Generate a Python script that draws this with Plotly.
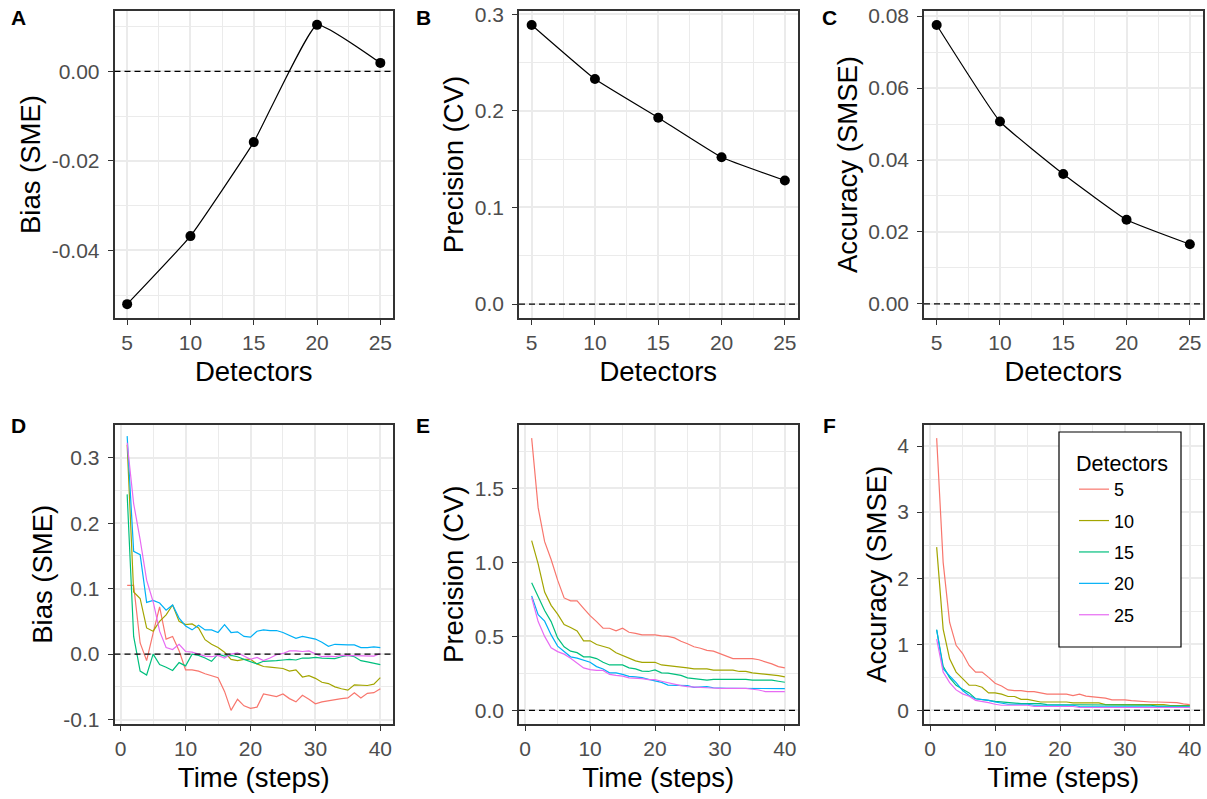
import plotly.graph_objects as go

# ---------------- data ----------------
detectors = [5, 10, 15, 20, 25]
bias_sme = [-0.0520, -0.0368, -0.0158, 0.0104, 0.0019]
precision_cv = [0.289, 0.233, 0.193, 0.152, 0.128]
accuracy_smse = [0.0775, 0.0507, 0.0361, 0.0234, 0.0166]

time_steps = list(range(1, 41))
series_names = ["5", "10", "15", "20", "25"]
series_colors = ["#F8766D", "#A3A500", "#00BF7D", "#00B0F6", "#E76BF3"]

bias_5 = [0.105, 0.105, 0.017, -0.010, 0.032, 0.072, 0.023, 0.027, 0.005, -0.024,
          -0.024, -0.026, -0.030, -0.033, -0.036, -0.057, -0.086, -0.069, -0.079, -0.083,
          -0.081, -0.061, -0.063, -0.065, -0.061, -0.068, -0.073, -0.063, -0.069, -0.076,
          -0.073, -0.071, -0.070, -0.068, -0.067, -0.059, -0.067, -0.060, -0.059, -0.053]
bias_10 = [0.320, 0.095, 0.085, 0.040, 0.035, 0.050, 0.060, 0.075, 0.050, 0.045,
           0.046, 0.040, 0.022, 0.015, 0.010, 0.003, -0.008, -0.010, -0.008, -0.008,
           -0.015, -0.019, -0.020, -0.021, -0.022, -0.026, -0.024, -0.035, -0.033, -0.037,
           -0.043, -0.045, -0.050, -0.053, -0.055, -0.047, -0.048, -0.048, -0.046, -0.036]
bias_15 = [0.244, 0.027, -0.026, -0.032, 0.000, -0.016, -0.020, -0.025, -0.013, -0.018,
           0.000, -0.002, -0.006, -0.011, 0.000, -0.003, -0.002, -0.004, -0.008, -0.012,
           -0.015, -0.011, -0.011, -0.010, -0.009, -0.008, -0.009, -0.006, -0.006, -0.005,
           -0.006, -0.007, -0.007, -0.004, -0.002, -0.004, -0.010, -0.012, -0.014, -0.016]
bias_20 = [0.333, 0.157, 0.152, 0.079, 0.082, 0.078, 0.067, 0.075, 0.055, 0.043,
           0.037, 0.044, 0.037, 0.037, 0.033, 0.045, 0.033, 0.034, 0.027, 0.026,
           0.035, 0.037, 0.036, 0.036, 0.033, 0.029, 0.024, 0.027, 0.025, 0.023,
           0.018, 0.012, 0.015, 0.014, 0.014, 0.014, 0.010, 0.010, 0.011, 0.010]
bias_25 = [0.323, 0.230, 0.175, 0.113, 0.080, 0.035, 0.010, 0.007, 0.015, 0.004,
           0.003, 0.000, -0.003, -0.004, -0.002, -0.006, 0.000, 0.002, -0.003, -0.008,
           -0.005, -0.010, -0.006, -0.001, 0.001, 0.005, 0.005, 0.004, 0.005, 0.000,
           -0.004, -0.003, -0.004, -0.002, -0.002, -0.003, -0.003, -0.003, -0.003, 0.001]

cv_5 = [1.84, 1.37, 1.14, 1.02, 0.88, 0.76, 0.74, 0.74, 0.69, 0.64,
        0.60, 0.555, 0.555, 0.537, 0.555, 0.528, 0.52, 0.51, 0.51, 0.51,
        0.504, 0.50, 0.49, 0.467, 0.45, 0.43, 0.42, 0.406, 0.40, 0.384,
        0.368, 0.35, 0.35, 0.35, 0.35, 0.342, 0.33, 0.314, 0.296, 0.287]
cv_10 = [1.147, 0.99, 0.80, 0.71, 0.65, 0.58, 0.56, 0.537, 0.47, 0.47,
         0.445, 0.43, 0.42, 0.39, 0.373, 0.357, 0.335, 0.325, 0.325, 0.325,
         0.307, 0.303, 0.298, 0.296, 0.287, 0.28, 0.28, 0.28, 0.272, 0.272,
         0.272, 0.272, 0.263, 0.263, 0.254, 0.25, 0.243, 0.237, 0.235, 0.226]
cv_15 = [0.862, 0.77, 0.675, 0.60, 0.49, 0.43, 0.40, 0.39, 0.362, 0.362,
         0.35, 0.325, 0.307, 0.307, 0.307, 0.287, 0.28, 0.265, 0.263, 0.274,
         0.254, 0.252, 0.243, 0.237, 0.22, 0.217, 0.21, 0.204, 0.21, 0.21,
         0.21, 0.21, 0.21, 0.21, 0.204, 0.204, 0.204, 0.204, 0.197, 0.19]
cv_20 = [0.774, 0.647, 0.603, 0.51, 0.434, 0.395, 0.362, 0.353, 0.34, 0.325,
         0.296, 0.28, 0.254, 0.254, 0.243, 0.23, 0.226, 0.221, 0.21, 0.20,
         0.189, 0.171, 0.171, 0.171, 0.167, 0.156, 0.156, 0.16, 0.153, 0.149,
         0.149, 0.149, 0.149, 0.149, 0.149, 0.149, 0.149, 0.149, 0.148, 0.147]
cv_25 = [0.763, 0.60, 0.50, 0.423, 0.397, 0.38, 0.353, 0.32, 0.287, 0.276,
         0.27, 0.27, 0.243, 0.237, 0.232, 0.22, 0.22, 0.215, 0.208, 0.208,
         0.197, 0.186, 0.178, 0.167, 0.16, 0.16, 0.156, 0.153, 0.149, 0.149,
         0.149, 0.149, 0.149, 0.149, 0.143, 0.138, 0.127, 0.127, 0.127, 0.127]

smse_5 = [4.12, 2.24, 1.33, 0.985, 0.86, 0.68, 0.58, 0.58, 0.50, 0.41,
          0.37, 0.31, 0.30, 0.30, 0.285, 0.285, 0.265, 0.245, 0.245, 0.245,
          0.245, 0.225, 0.245, 0.215, 0.205, 0.205, 0.186, 0.16, 0.16, 0.16,
          0.147, 0.137, 0.127, 0.127, 0.127, 0.127, 0.127, 0.118, 0.098, 0.088]
smse_10 = [2.47, 1.23, 0.78, 0.58, 0.48, 0.38, 0.38, 0.35, 0.265, 0.265,
           0.245, 0.21, 0.21, 0.167, 0.167, 0.147, 0.127, 0.127, 0.127, 0.127,
           0.127, 0.113, 0.113, 0.113, 0.113, 0.113, 0.088, 0.088, 0.088, 0.088,
           0.088, 0.088, 0.088, 0.088, 0.088, 0.088, 0.074, 0.074, 0.074, 0.074]
smse_15 = [1.22, 0.667, 0.495, 0.38, 0.32, 0.265, 0.176, 0.167, 0.152, 0.137,
           0.127, 0.113, 0.103, 0.103, 0.103, 0.103, 0.103, 0.088, 0.088, 0.088,
           0.088, 0.088, 0.078, 0.078, 0.078, 0.078, 0.078, 0.078, 0.078, 0.078,
           0.078, 0.078, 0.078, 0.078, 0.064, 0.064, 0.064, 0.064, 0.064, 0.064]
smse_20 = [1.22, 0.63, 0.52, 0.42, 0.30, 0.225, 0.176, 0.167, 0.152, 0.127,
           0.113, 0.093, 0.093, 0.093, 0.093, 0.078, 0.078, 0.078, 0.078, 0.078,
           0.078, 0.078, 0.059, 0.059, 0.059, 0.059, 0.059, 0.059, 0.059, 0.059,
           0.049, 0.049, 0.049, 0.049, 0.049, 0.049, 0.049, 0.049, 0.049, 0.049]
smse_25 = [1.08, 0.58, 0.42, 0.31, 0.25, 0.215, 0.152, 0.137, 0.118, 0.093,
           0.078, 0.078, 0.078, 0.078, 0.078, 0.059, 0.059, 0.059, 0.059, 0.059,
           0.059, 0.059, 0.044, 0.044, 0.044, 0.044, 0.044, 0.044, 0.044, 0.044,
           0.044, 0.044, 0.044, 0.044, 0.044, 0.044, 0.044, 0.044, 0.044, 0.044]

bias_series = [bias_5, bias_10, bias_15, bias_20, bias_25]
cv_series = [cv_5, cv_10, cv_15, cv_20, cv_25]
smse_series = [smse_5, smse_10, smse_15, smse_20, smse_25]

top_x_ticks = [5, 10, 15, 20, 25]
top_x_labels = ["5", "10", "15", "20", "25"]
bottom_x_ticks = [0, 10, 20, 30, 40]
bottom_x_labels = ["0", "10", "20", "30", "40"]
a_y_ticks = [-0.04, -0.02, 0.00]
a_y_labels = ["-0.04", "-0.02", "0.00"]
b_y_ticks = [0.0, 0.1, 0.2, 0.3]
b_y_labels = ["0.0", "0.1", "0.2", "0.3"]
c_y_ticks = [0.00, 0.02, 0.04, 0.06, 0.08]
c_y_labels = ["0.00", "0.02", "0.04", "0.06", "0.08"]
d_y_ticks = [-0.1, 0.0, 0.1, 0.2, 0.3]
d_y_labels = ["-0.1", "0.0", "0.1", "0.2", "0.3"]
e_y_ticks = [0.0, 0.5, 1.0, 1.5]
e_y_labels = ["0.0", "0.5", "1.0", "1.5"]
f_y_ticks = [0, 1, 2, 3, 4]
f_y_labels = ["0", "1", "2", "3", "4"]

# ---------------- figure ----------------
W, H = 1207, 799
FONT = "Liberation Sans, Arial, Helvetica, sans-serif"
GRID = "#EBEBEB"
BORDER = "#333333"
TICKC = "#4D4D4D"

fig = go.Figure()

col_px = [(114.5, 393), (519, 797.5), (924, 1202.5)]
row_px = [(11, 318), (424.5, 724)]


def xdom(c):
    return [col_px[c][0] / W, col_px[c][1] / W]


def ydom(r):
    return [1 - row_px[r][1] / H, 1 - row_px[r][0] / H]


def axis_common():
    return dict(
        showline=True, mirror=True, linecolor=BORDER, linewidth=1.5,
        ticks="outside", ticklen=5, tickcolor=BORDER, tickwidth=1.2,
        showgrid=True, gridcolor=GRID, gridwidth=1.6, automargin=False,
        zeroline=False, tickfont=dict(family=FONT, size=21, color=TICKC),
        tickmode="array",
    )


panels = [
    (1, 0, 0, top_x_ticks, top_x_labels, [4, 26], 2.5, a_y_ticks, a_y_labels, [-0.0551, 0.0135], 0.01, "Detectors", "Bias (SME)"),
    (2, 0, 1, top_x_ticks, top_x_labels, [4, 26], 2.5, b_y_ticks, b_y_labels, [-0.01445, 0.3035], 0.05, "Detectors", "Precision (CV)"),
    (3, 0, 2, top_x_ticks, top_x_labels, [4, 26], 2.5, c_y_ticks, c_y_labels, [-0.0039, 0.0814], 0.01, "Detectors", "Accuracy (SMSE)"),
    (4, 1, 0, bottom_x_ticks, bottom_x_labels, [-0.95, 41.95], 5, d_y_ticks, d_y_labels, [-0.1068, 0.3508], 0.05, "Time (steps)", "Bias (SME)"),
    (5, 1, 1, bottom_x_ticks, bottom_x_labels, [-0.95, 41.95], 5, e_y_ticks, e_y_labels, [-0.092, 1.932], 0.25, "Time (steps)", "Precision (CV)"),
    (6, 1, 2, bottom_x_ticks, bottom_x_labels, [-0.95, 41.95], 5, f_y_ticks, f_y_labels, [-0.206, 4.326], 0.5, "Time (steps)", "Accuracy (SMSE)"),
]

layout_axes = {}
for (i, r, c, xt, xl, xr, xm, yt, yl, yr, ym, xtitle, ytitle) in panels:
    xa = axis_common()
    xa.update(domain=xdom(c), range=xr, tickvals=xt, ticktext=xl,
              anchor="y" if i == 1 else f"y{i}",
              minor=dict(tickmode="linear", tick0=xt[0], dtick=xm, showgrid=True,
                         gridcolor=GRID, gridwidth=0.8, ticks=""),
              title=dict(text=xtitle, font=dict(family=FONT, size=27.5, color="black"), standoff=9))
    ya = axis_common()
    ya.update(domain=ydom(r), range=yr, tickvals=yt, ticktext=yl,
              anchor="x" if i == 1 else f"x{i}", ticklabelstandoff=4,
              minor=dict(tickmode="linear", tick0=yt[0], dtick=ym, showgrid=True,
                         gridcolor=GRID, gridwidth=0.8, ticks=""),
              title=dict(text=ytitle, font=dict(family=FONT, size=27.5, color="black"), standoff=3))
    sx = "" if i == 1 else str(i)
    layout_axes[f"xaxis{sx}"] = xa
    layout_axes[f"yaxis{sx}"] = ya

# top row: black line + points
for i, vals in zip([1, 2, 3], [bias_sme, precision_cv, accuracy_smse]):
    sx = "" if i == 1 else str(i)
    fig.add_trace(go.Scatter(
        x=detectors, y=vals, mode="lines+markers",
        line=dict(color="black", width=1.2, shape="spline", smoothing=0.35),
        marker=dict(color="black", size=10),
        showlegend=False, xaxis=f"x{sx}", yaxis=f"y{sx}"))

# bottom row: coloured lines by detectors
for i, group in zip([4, 5, 6], [bias_series, cv_series, smse_series]):
    for k, (name, col, vals) in enumerate(zip(series_names, series_colors, group)):
        fig.add_trace(go.Scatter(
            x=time_steps, y=vals, mode="lines", name=name,
            line=dict(color=col, width=1.2),
            legendgroup=name, showlegend=(i == 6),
            xaxis=f"x{i}", yaxis=f"y{i}"))

# dashed zero reference lines
shapes = []
for i in range(1, 7):
    sx = "" if i == 1 else str(i)
    shapes.append(dict(type="line", xref=f"x{sx} domain", x0=0, x1=1,
                       yref=f"y{sx}", y0=0, y1=0,
                       line=dict(color="black", width=1.2, dash="6px,4px"), layer="above"))

# legend frame (box behind the legend)
shapes.append(dict(type="rect", xref="paper", yref="paper",
                   x0=1059 / W, x1=1181 / W, y0=1 - 647 / H, y1=1 - 432 / H,
                   fillcolor="white", line=dict(color="black", width=1.2), layer="above"))

# panel letters
letters = ["A", "B", "C", "D", "E", "F"]
letter_pos = [(18, 18), (423, 18), (829, 18), (18, 425), (423, 425), (829, 425)]
annotations = []
for L, (px, py) in zip(letters, letter_pos):
    annotations.append(dict(text=f"<b>{L}</b>", x=px / W, y=1 - py / H, xref="paper", yref="paper",
                            showarrow=False, xanchor="center", yanchor="middle",
                            font=dict(family=FONT, size=21, color="black")))

fig.update_layout(
    width=W, height=H,
    margin=dict(l=0, r=0, t=0, b=0),
    paper_bgcolor="white", plot_bgcolor="white",
    font=dict(family=FONT, color="black"),
    shapes=shapes, annotations=annotations,
    legend=dict(
        title=dict(text="Detectors", font=dict(family=FONT, size=21.5, color="black")),
        font=dict(family=FONT, size=18, color="black"),
        x=1074 / W, y=1 - 443 / H, xanchor="left", yanchor="top",
        borderwidth=0, bgcolor="rgba(0,0,0,0)",
        tracegroupgap=5, itemwidth=30,
    ),
    **layout_axes,
)

fig.write_html("out.html", config={"displayModeBar": False},
               post_script="document.body.style.margin='0';document.body.style.padding='0';")
